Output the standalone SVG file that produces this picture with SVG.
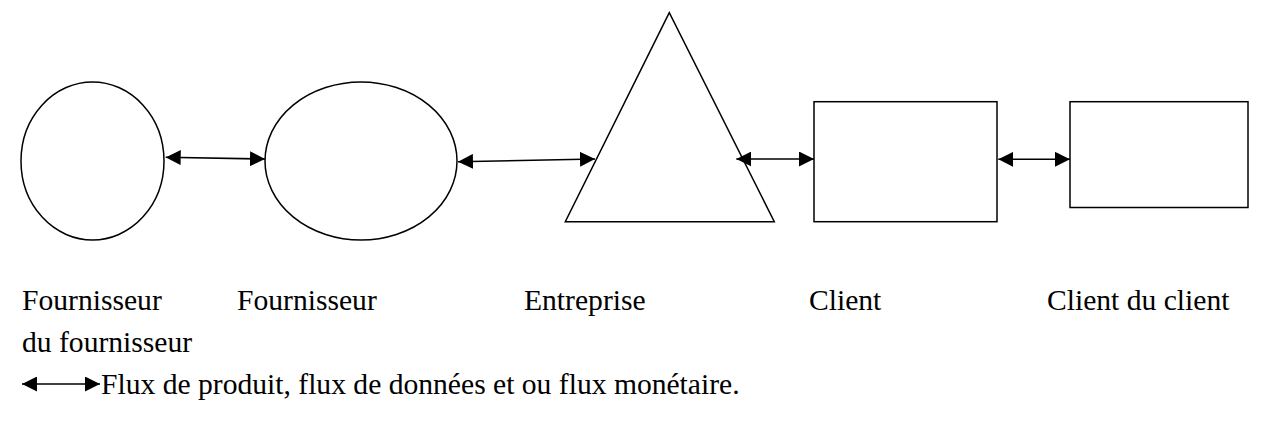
<svg xmlns="http://www.w3.org/2000/svg" width="1275" height="425" viewBox="0 0 1275 425">
  <style>
    .shape { fill: #ffffff; stroke: #000000; stroke-width: 1.5; }
    .flow { fill: none; stroke: #000000; stroke-width: 1.6; marker-start: url(#head); marker-end: url(#head); }
    .label { font-family: "Liberation Serif", "Times New Roman", serif; font-size: 29.6px; fill: #000000; }
  </style>
  <defs>
    <marker id="head" markerUnits="userSpaceOnUse" markerWidth="15" markerHeight="15" refX="15" refY="7.5" orient="auto-start-reverse">
      <path d="M0,0 L15,7.5 L0,15 Z" fill="#000000"/>
    </marker>
  </defs>
  <rect width="1275" height="425" fill="#ffffff"/>

  <!-- supply chain actors -->
  <g id="fournisseur-du-fournisseur">
    <ellipse class="shape" cx="92.5" cy="161" rx="71.5" ry="79"/>
    <text class="label" x="22" y="310">Fournisseur</text>
    <text class="label" x="22" y="352">du fournisseur</text>
  </g>
  <g id="fournisseur">
    <ellipse class="shape" cx="361" cy="161" rx="96" ry="79"/>
    <text class="label" x="237" y="310">Fournisseur</text>
  </g>
  <g id="entreprise">
    <polygon class="shape" points="669.3,12.7 565.3,221.7 774.3,221.7"/>
    <text class="label" x="524" y="310">Entreprise</text>
  </g>
  <g id="client">
    <rect class="shape" x="814" y="101.7" width="183" height="120"/>
    <text class="label" x="809" y="310">Client</text>
  </g>
  <g id="client-du-client">
    <rect class="shape" x="1070" y="101.7" width="178" height="105.8"/>
    <text class="label" x="1047" y="310">Client du client</text>
  </g>

  <!-- two-way flows between neighbours -->
  <g id="connectors">
    <line class="flow" x1="165.7" y1="157.3" x2="265" y2="159"/>
    <line class="flow" x1="458" y1="161.7" x2="595" y2="159"/>
    <line class="flow" x1="736.3" y1="159" x2="814" y2="159"/>
    <line class="flow" x1="998.3" y1="159.3" x2="1070" y2="159.3"/>
  </g>

  <!-- legend -->
  <g id="legend">
    <line class="flow" x1="22" y1="384" x2="100" y2="384"/>
    <text class="label" x="101" y="394">Flux de produit, flux de données et ou flux monétaire.</text>
  </g>
</svg>
